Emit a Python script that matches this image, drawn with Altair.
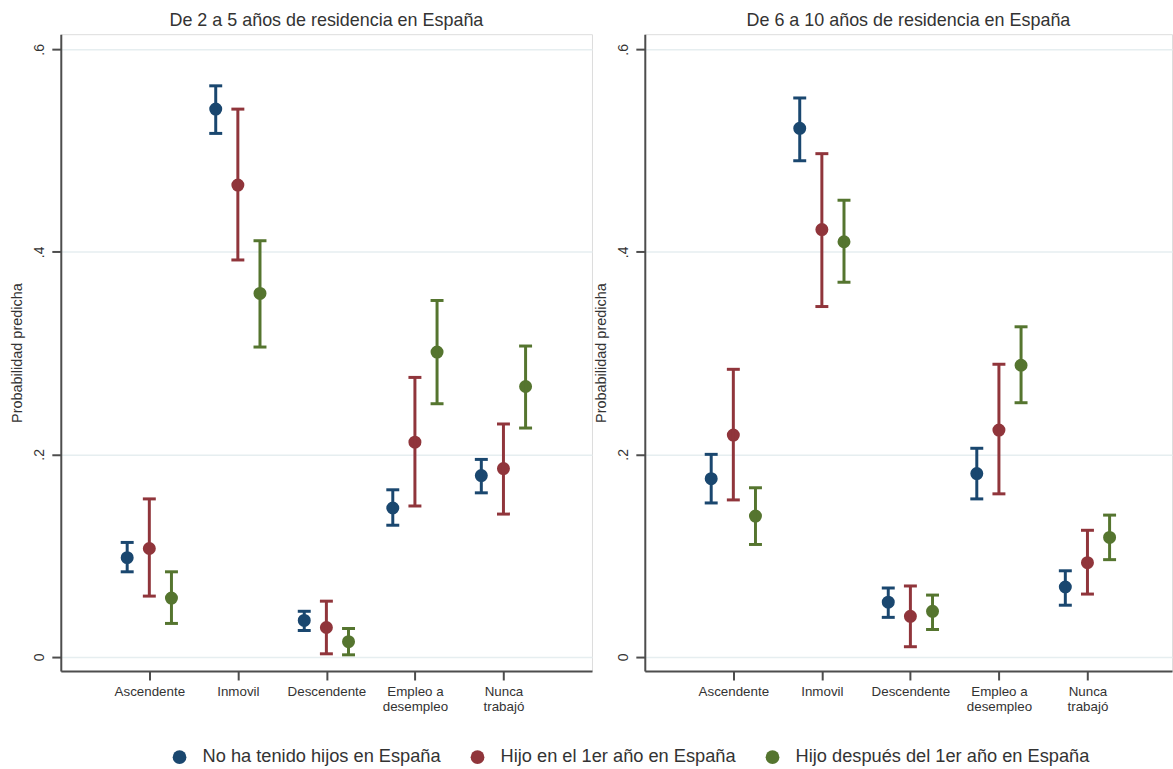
import json
import altair as alt
import pandas as pd

# ---------------- data ----------------
categories = ["Ascendente", "Inmovil", "Descendente", "Empleo a desempleo", "Nunca trabajó"]
category_labels = [["Ascendente"], ["Inmovil"], ["Descendente"], ["Empleo a", "desempleo"], ["Nunca", "trabajó"]]
series = ["No ha tenido hijos en España", "Hijo en el 1er año en España", "Hijo después del 1er año en España"]
panels = ["De 2 a 5 años de residencia en España", "De 6 a 10 años de residencia en España"]

# Panel 1: De 2 a 5 años
p1_est_a = [0.098, 0.541, 0.036, 0.147, 0.179]
p1_lo_a = [0.084, 0.517, 0.026, 0.130, 0.162]
p1_hi_a = [0.113, 0.564, 0.045, 0.165, 0.195]
p1_est_b = [0.107, 0.466, 0.029, 0.212, 0.186]
p1_lo_b = [0.060, 0.392, 0.003, 0.149, 0.141]
p1_hi_b = [0.156, 0.541, 0.055, 0.276, 0.230]
p1_est_c = [0.058, 0.359, 0.015, 0.301, 0.267]
p1_lo_c = [0.033, 0.306, 0.002, 0.250, 0.226]
p1_hi_c = [0.084, 0.411, 0.028, 0.352, 0.307]

# Panel 2: De 6 a 10 años
p2_est_a = [0.176, 0.522, 0.054, 0.181, 0.069]
p2_lo_a = [0.152, 0.490, 0.039, 0.156, 0.051]
p2_hi_a = [0.200, 0.552, 0.068, 0.206, 0.085]
p2_est_b = [0.219, 0.422, 0.040, 0.224, 0.093]
p2_lo_b = [0.155, 0.346, 0.010, 0.161, 0.062]
p2_hi_b = [0.284, 0.497, 0.070, 0.289, 0.125]
p2_est_c = [0.139, 0.410, 0.045, 0.288, 0.118]
p2_lo_c = [0.111, 0.370, 0.027, 0.251, 0.096]
p2_hi_c = [0.167, 0.451, 0.061, 0.326, 0.140]

y_ticks = [0, 0.2, 0.4, 0.6]

# ---------------- styling ----------------
colors = ["#1a476f", "#90353b", "#55752f"]
series_offset = [-0.25, 0.0, 0.25]
FONT = "Liberation Sans"
TEXT = "#333333"
AXIS = "#4d4d4d"
GRID = "#e6eef0"


def build_df(est, lo, hi):
    rows = []
    for s_i, s in enumerate(series):
        for c_i, c in enumerate(categories):
            rows.append({
                "series": s,
                "category": c,
                "xpos": c_i + 1 + series_offset[s_i],
                "est": est[s_i][c_i],
                "lo": lo[s_i][c_i],
                "hi": hi[s_i][c_i],
            })
    return pd.DataFrame(rows)


df1 = build_df([p1_est_a, p1_est_b, p1_est_c], [p1_lo_a, p1_lo_b, p1_lo_c], [p1_hi_a, p1_hi_b, p1_hi_c])
df2 = build_df([p2_est_a, p2_est_b, p2_est_c], [p2_lo_a, p2_lo_b, p2_lo_c], [p2_hi_a, p2_hi_b, p2_hi_c])

x_label_expr = json.dumps(category_labels, ensure_ascii=False) + "[datum.value - 1]"
y_label_expr = "datum.value == 0 ? '0' : replace(format(datum.value, '.1f'), '0.', '.')"

legend = alt.Legend(
    title=None,
    orient="none",
    legendX=110,
    legendY=716,
    direction="horizontal",
    symbolType="circle",
    symbolSize=190,
    symbolStrokeWidth=0,
    labelFontSize=18.3,
    labelFont=FONT,
    labelColor=TEXT,
    labelOffset=14,
    columnPadding=27,
    labelLimit=400,
)


def panel(df, title, xmax, width):
    xscale = alt.Scale(domain=[0, xmax], nice=False, zero=False)
    yscale = alt.Scale(domain=[-0.014, 0.615], nice=False, zero=False)
    xaxis = alt.Axis(
        values=[1, 2, 3, 4, 5], labelExpr=x_label_expr, title=None, grid=False,
        tickSize=9, tickColor=AXIS, tickWidth=2, domainColor=AXIS, domainWidth=2,
        labelFontSize=13.4, labelFont=FONT, labelColor=TEXT, labelPadding=5,
        labelLineHeight=15, labelAngle=0,
    )
    yaxis = alt.Axis(
        values=y_ticks, labelExpr=y_label_expr, title="Probabilidad predicha",
        grid=True, gridColor=GRID, gridWidth=1.5,
        tickSize=9, tickColor=AXIS, tickWidth=2, domainColor=AXIS, domainWidth=2,
        labelFontSize=14, labelFont=FONT, labelColor=TEXT, labelAngle=270,
        labelAlign="center", labelBaseline="bottom", labelPadding=5,
        titleFontSize=14.5, titleFont=FONT, titleColor=TEXT, titleFontWeight="normal",
        titlePadding=8,
    )
    color = alt.Color("series:N", scale=alt.Scale(domain=series, range=colors), legend=legend, sort=series)
    base = alt.Chart(df).encode(
        x=alt.X("xpos:Q", scale=xscale, axis=xaxis),
        color=color,
    )
    pts = base.mark_point(filled=True, size=170, opacity=1).encode(y=alt.Y("est:Q", scale=yscale, axis=yaxis))
    rule = base.mark_rule(strokeWidth=3).encode(y=alt.Y("lo:Q"), y2="hi:Q")
    cap_hi = base.mark_tick(orient="horizontal", size=13, thickness=3, opacity=1).encode(y=alt.Y("hi:Q"))
    cap_lo = base.mark_tick(orient="horizontal", size=13, thickness=3, opacity=1).encode(y=alt.Y("lo:Q"))
    return alt.layer(pts, rule, cap_hi, cap_lo).properties(
        width=width, height=639,
        title=alt.TitleParams(title, fontSize=18, font=FONT, fontWeight="normal", color=TEXT,
                              anchor="middle", baseline="bottom", offset=-14),
    )


left = panel(df1, panels[0], 6.0, 533)
right = panel(df2, panels[1], 5.955, 529)

chart = alt.hconcat(left, right, spacing=0).resolve_scale(
    color="shared", x="independent", y="independent"
).properties(
    padding={"left": 9, "top": 10, "right": 0, "bottom": 0},
    background="white",
).configure_view(stroke=None).configure(font=FONT)

chart.save("out.html", embed_options={"renderer": "svg", "actions": False})
